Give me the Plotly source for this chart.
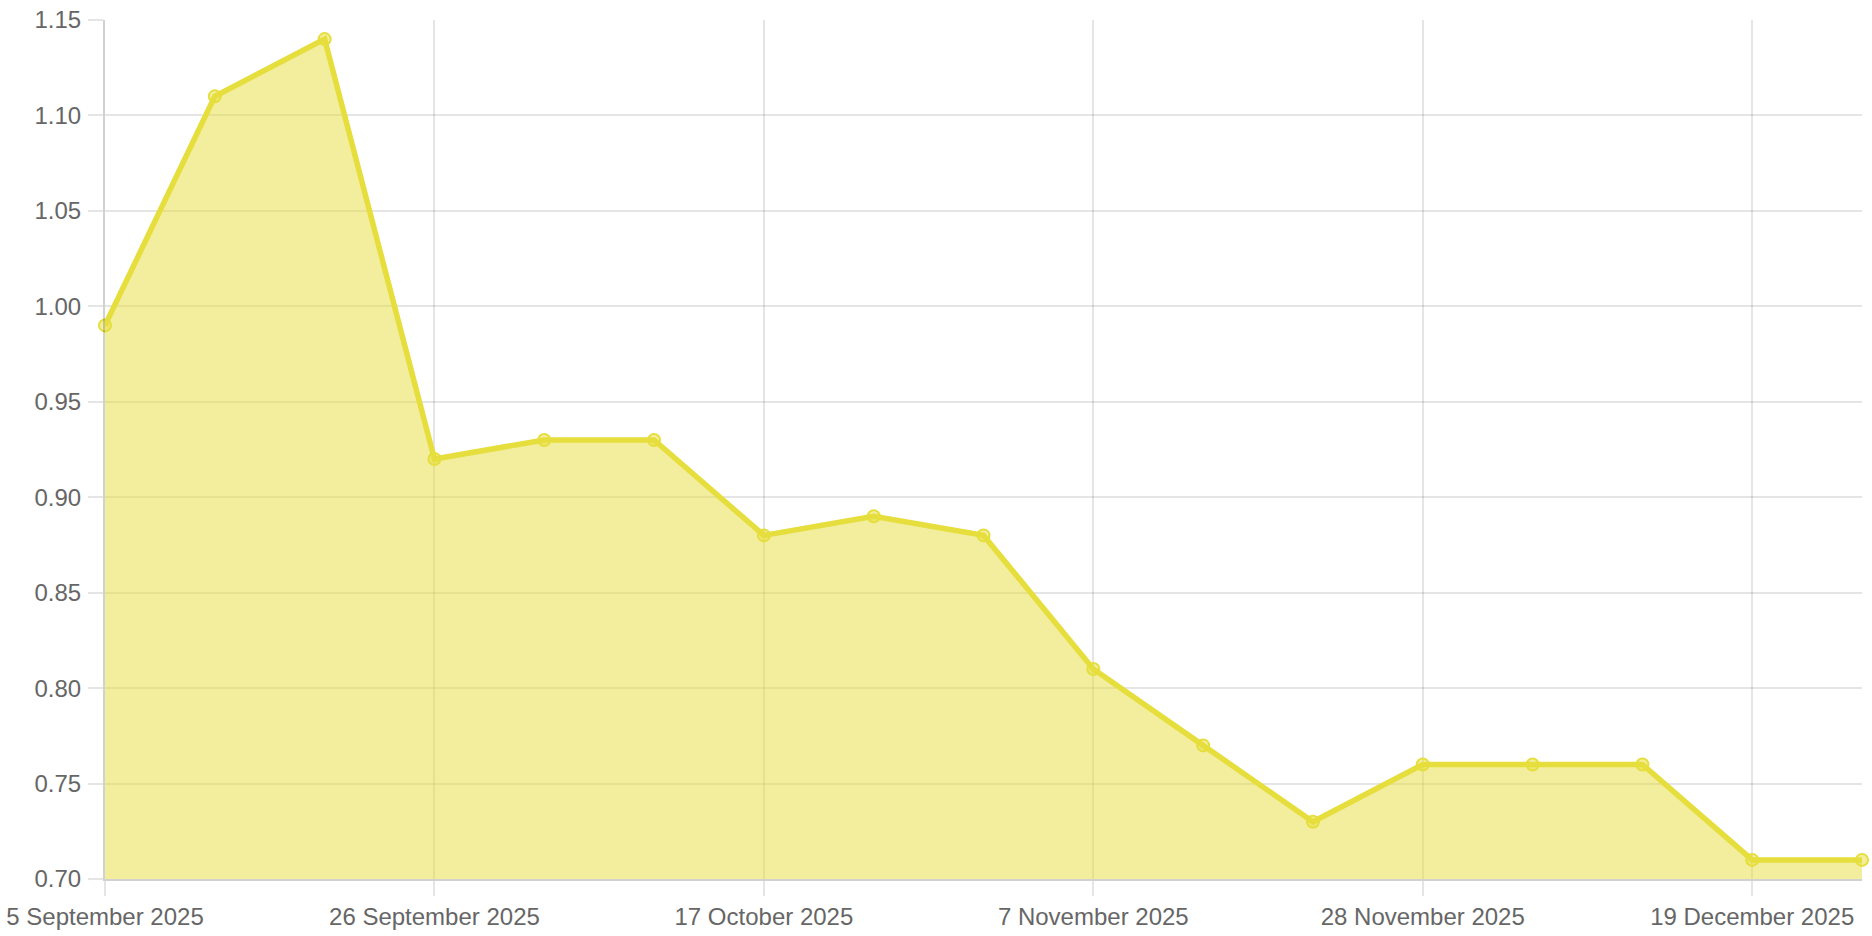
import plotly.graph_objects as go

dates = ["2025-09-05", "2025-09-12", "2025-09-19", "2025-09-26", "2025-10-03",
         "2025-10-10", "2025-10-17", "2025-10-24", "2025-10-31", "2025-11-07",
         "2025-11-14", "2025-11-21", "2025-11-28", "2025-12-05", "2025-12-12",
         "2025-12-19", "2025-12-26"]
values = [0.99, 1.11, 1.14, 0.92, 0.93, 0.93, 0.88, 0.89, 0.88, 0.81,
          0.77, 0.73, 0.76, 0.76, 0.76, 0.71, 0.71]
x_tick_dates = ["2025-09-05", "2025-09-26", "2025-10-17", "2025-11-07",
                "2025-11-28", "2025-12-19"]
x_tick_labels = ["5 September 2025", "26 September 2025", "17 October 2025",
                 "7 November 2025", "28 November 2025", "19 December 2025"]
y_ticks = [0.70, 0.75, 0.80, 0.85, 0.90, 0.95, 1.00, 1.05, 1.10, 1.15]

LINE = "rgb(229,222,60)"
FILL = "rgba(229,222,60,0.5)"
GRID = "rgba(0,0,0,0.1)"

fig = go.Figure()
fig.add_trace(go.Scatter(
    x=dates, y=values, mode="lines+markers",
    fill="tozeroy", fillcolor=FILL,
    line=dict(color=LINE, width=5.5),
    marker=dict(size=12, color=FILL, line=dict(color=LINE, width=2)),
    cliponaxis=False, showlegend=False,
))

fig.update_layout(
    width=1872, height=936,
    margin=dict(l=105, r=10, t=20, b=57),
    paper_bgcolor="white", plot_bgcolor="white",
    font=dict(family="Liberation Sans, Arial, sans-serif", size=24, color="#666666"),
    xaxis=dict(
        type="date", range=[dates[0], dates[-1]],
        tickvals=x_tick_dates, ticktext=x_tick_labels,
        showgrid=True, gridcolor=GRID, gridwidth=2,
        ticks="outside", ticklen=15, tickwidth=2, tickcolor=GRID,
        showline=True, linecolor="rgba(0,0,0,0.18)", linewidth=2,
        zeroline=False, automargin=False,
    ),
    yaxis=dict(
        range=[0.70, 1.15], tickvals=y_ticks, tickformat=".2f",
        showgrid=True, gridcolor=GRID, gridwidth=2,
        ticks="outside", ticklen=15, tickwidth=2, tickcolor=GRID,
        showline=True, linecolor="rgba(0,0,0,0.18)", linewidth=2,
        zeroline=False, automargin=False, ticklabelstandoff=2,
    ),
)

fig.write_html("out.html", config={"displayModeBar": False},
               post_script="document.body.style.margin='0';document.body.style.overflow='hidden';")
